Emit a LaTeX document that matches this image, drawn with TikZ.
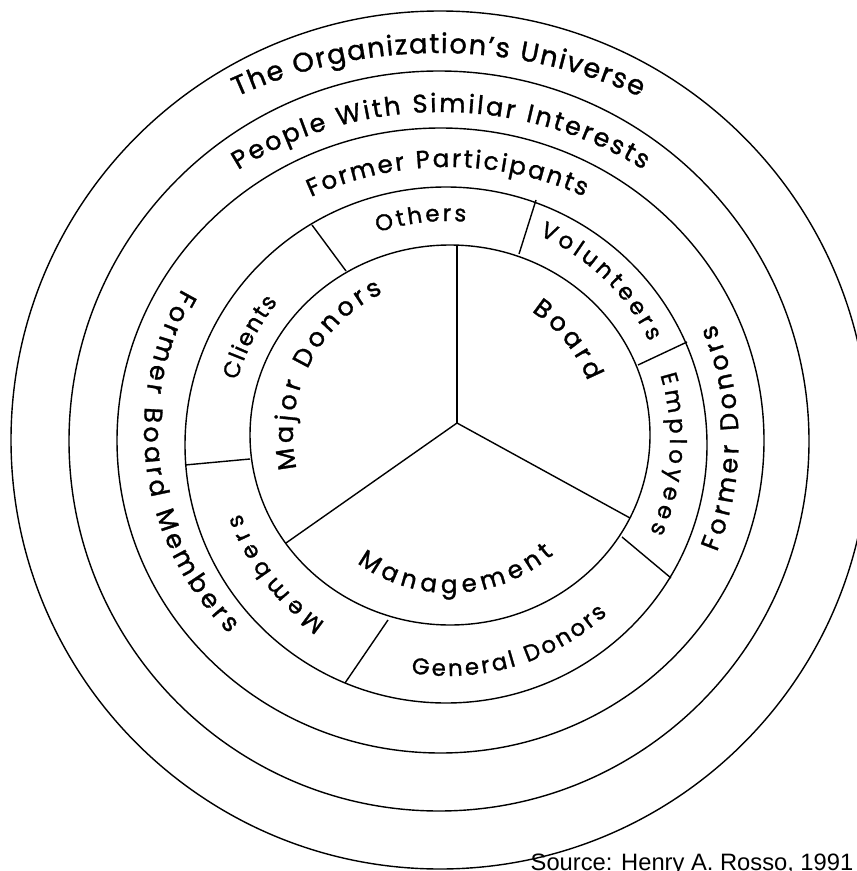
\documentclass[tikz,border=0pt]{standalone}
\usepackage{fontspec}
\newfontfamily\ringfont{Poppins}[FakeBold=1.2]
\newfontfamily\srcfont{Liberation Sans}
\usetikzlibrary{calc}
\usetikzlibrary{decorations.text}

\begin{document}
\begin{tikzpicture}[x=0.02cm, y=-0.02cm, line width=0.8pt,
    ringtext/.style 2 args={decorate, decoration={text along path, text align={fit to path},
      text={|\ringfont\fontsize{#1}{#1}\selectfont|#2}}}]
  \fill[white] (0,0) rectangle (857,871);
  \useasboundingbox (0,0) rectangle (857,871);

  \coordinate (cUniverse) at (440,440);
  \coordinate (cInterests) at (439,441);
  \coordinate (cFormer) at (440.5,440.5);
  \coordinate (cOuter) at (446,445);
  \coordinate (cCore) at (450,435);
  \coordinate (hub) at (457,423);

  % rings
  \draw (cUniverse) circle [radius=429];
  \draw (cInterests) circle [radius=370];
  \draw (cFormer) ellipse [x radius=323.5, y radius=312.5];
  \draw (cOuter) ellipse [x radius=261, y radius=258];
  \draw (cCore) ellipse [x radius=200, y radius=190];

  % spokes of the core
  \coordinate (sTop) at (457,245);
  \coordinate (sLeft) at (286,543);
  \coordinate (sRight) at (630,518);
  \draw (hub) -- (sTop);
  \draw (hub) -- (sLeft);
  \draw (hub) -- (sRight);

  % walls between the segments of the second ring
  \coordinate (w1a) at (312,225); \coordinate (w1b) at (346,271);
  \coordinate (w2a) at (536,200); \coordinate (w2b) at (519,254);
  \coordinate (w3a) at (687,342); \coordinate (w3b) at (638,365);
  \coordinate (w4a) at (671,578); \coordinate (w4b) at (622,537);
  \coordinate (w5a) at (345,683); \coordinate (w5b) at (388,620);
  \coordinate (w6a) at (185,465); \coordinate (w6b) at (250,459);
  \draw (w1a) -- (w1b);
  \draw (w2a) -- (w2b);
  \draw (w3a) -- (w3b);
  \draw (w4a) -- (w4b);
  \draw (w5a) -- (w5b);
  \draw (w6a) -- (w6b);

  % labels on the outer rings
  \coordinate (aUniverse) at (438,540);
  \coordinate (aInterests) at (441,496);
  \coordinate (aFormer) at (448,495);
  \coordinate (aBoardMembers) at (428,431);
  \coordinate (aRing) at (448,440);
  \path[ringtext={15.5pt}{The Organization’s Universe}]
    ($(aUniverse)+(245.6:487)$) arc [start angle=245.6, end angle=294.5, radius=487];
  \path[ringtext={14.5pt}{People With Similar Interests}]
    ($(aInterests)+(238.1:384)$) arc [start angle=238.1, end angle=301.8, radius=384];
  \path[ringtext={14pt}{Former Participants}]
    ($(aFormer)+(245.3:328)$) arc [start angle=245.3, end angle=294.5, radius=328];
  \path[ringtext={14.5pt}{Former Board Members}]
    ($(aBoardMembers)+(210:284)$) arc [start angle=210, end angle=134.5, radius=284];
  \path[ringtext={14.5pt}{Former Donors}]
    ($(cFormer)+(22:298)$) arc [start angle=22, end angle=-23, radius=298];

  % labels on the second ring
  \path[ringtext={13pt}{Others}]
    ($(aRing)+(251.3:219)$) arc [start angle=251.3, end angle=274.7, radius=219];
  \path[ringtext={13pt}{Volunteers}]
    ($(aRing)+(294:224)$) arc [start angle=294, end angle=334, radius=224];
  \path[ringtext={13pt}{Employees}]
    ($(aRing)+(343:222)$) arc [start angle=343, end angle=384.5, radius=222];
  \path[ringtext={13pt}{General Donors}]
    ($(aRing)+(99:236)$) arc [start angle=99, end angle=47.5, radius=236];
  \path[ringtext={13pt}{Members}]
    ($(aRing)+(124:220)$) arc [start angle=124, end angle=160.5, radius=220];
  \path[ringtext={13pt}{Clients}]
    ($(aRing)+(195.8:219)$) arc [start angle=195.8, end angle=219, radius=219];

  % labels in the core
  \path[ringtext={14.5pt}{Major Donors}]
    ($(cCore)+(167.6:157)$) arc [start angle=167.6, end angle=244.7, radius=157];
  \path[ringtext={14.5pt}{Board}]
    ($(cCore)+(303.4:148)$) arc [start angle=303.4, end angle=338.6, radius=148];
  \path[ringtext={14pt}{Management}]
    ($(cCore)+(126:158)$) arc [start angle=126, end angle=49, radius=158];

  \node[anchor=base west, inner sep=0pt, font=\srcfont\fontsize{13.5pt}{13.5pt}\selectfont]
    (source) at (530,870) {Source: Henry A. Rosso, 1991};
\end{tikzpicture}
\end{document}
